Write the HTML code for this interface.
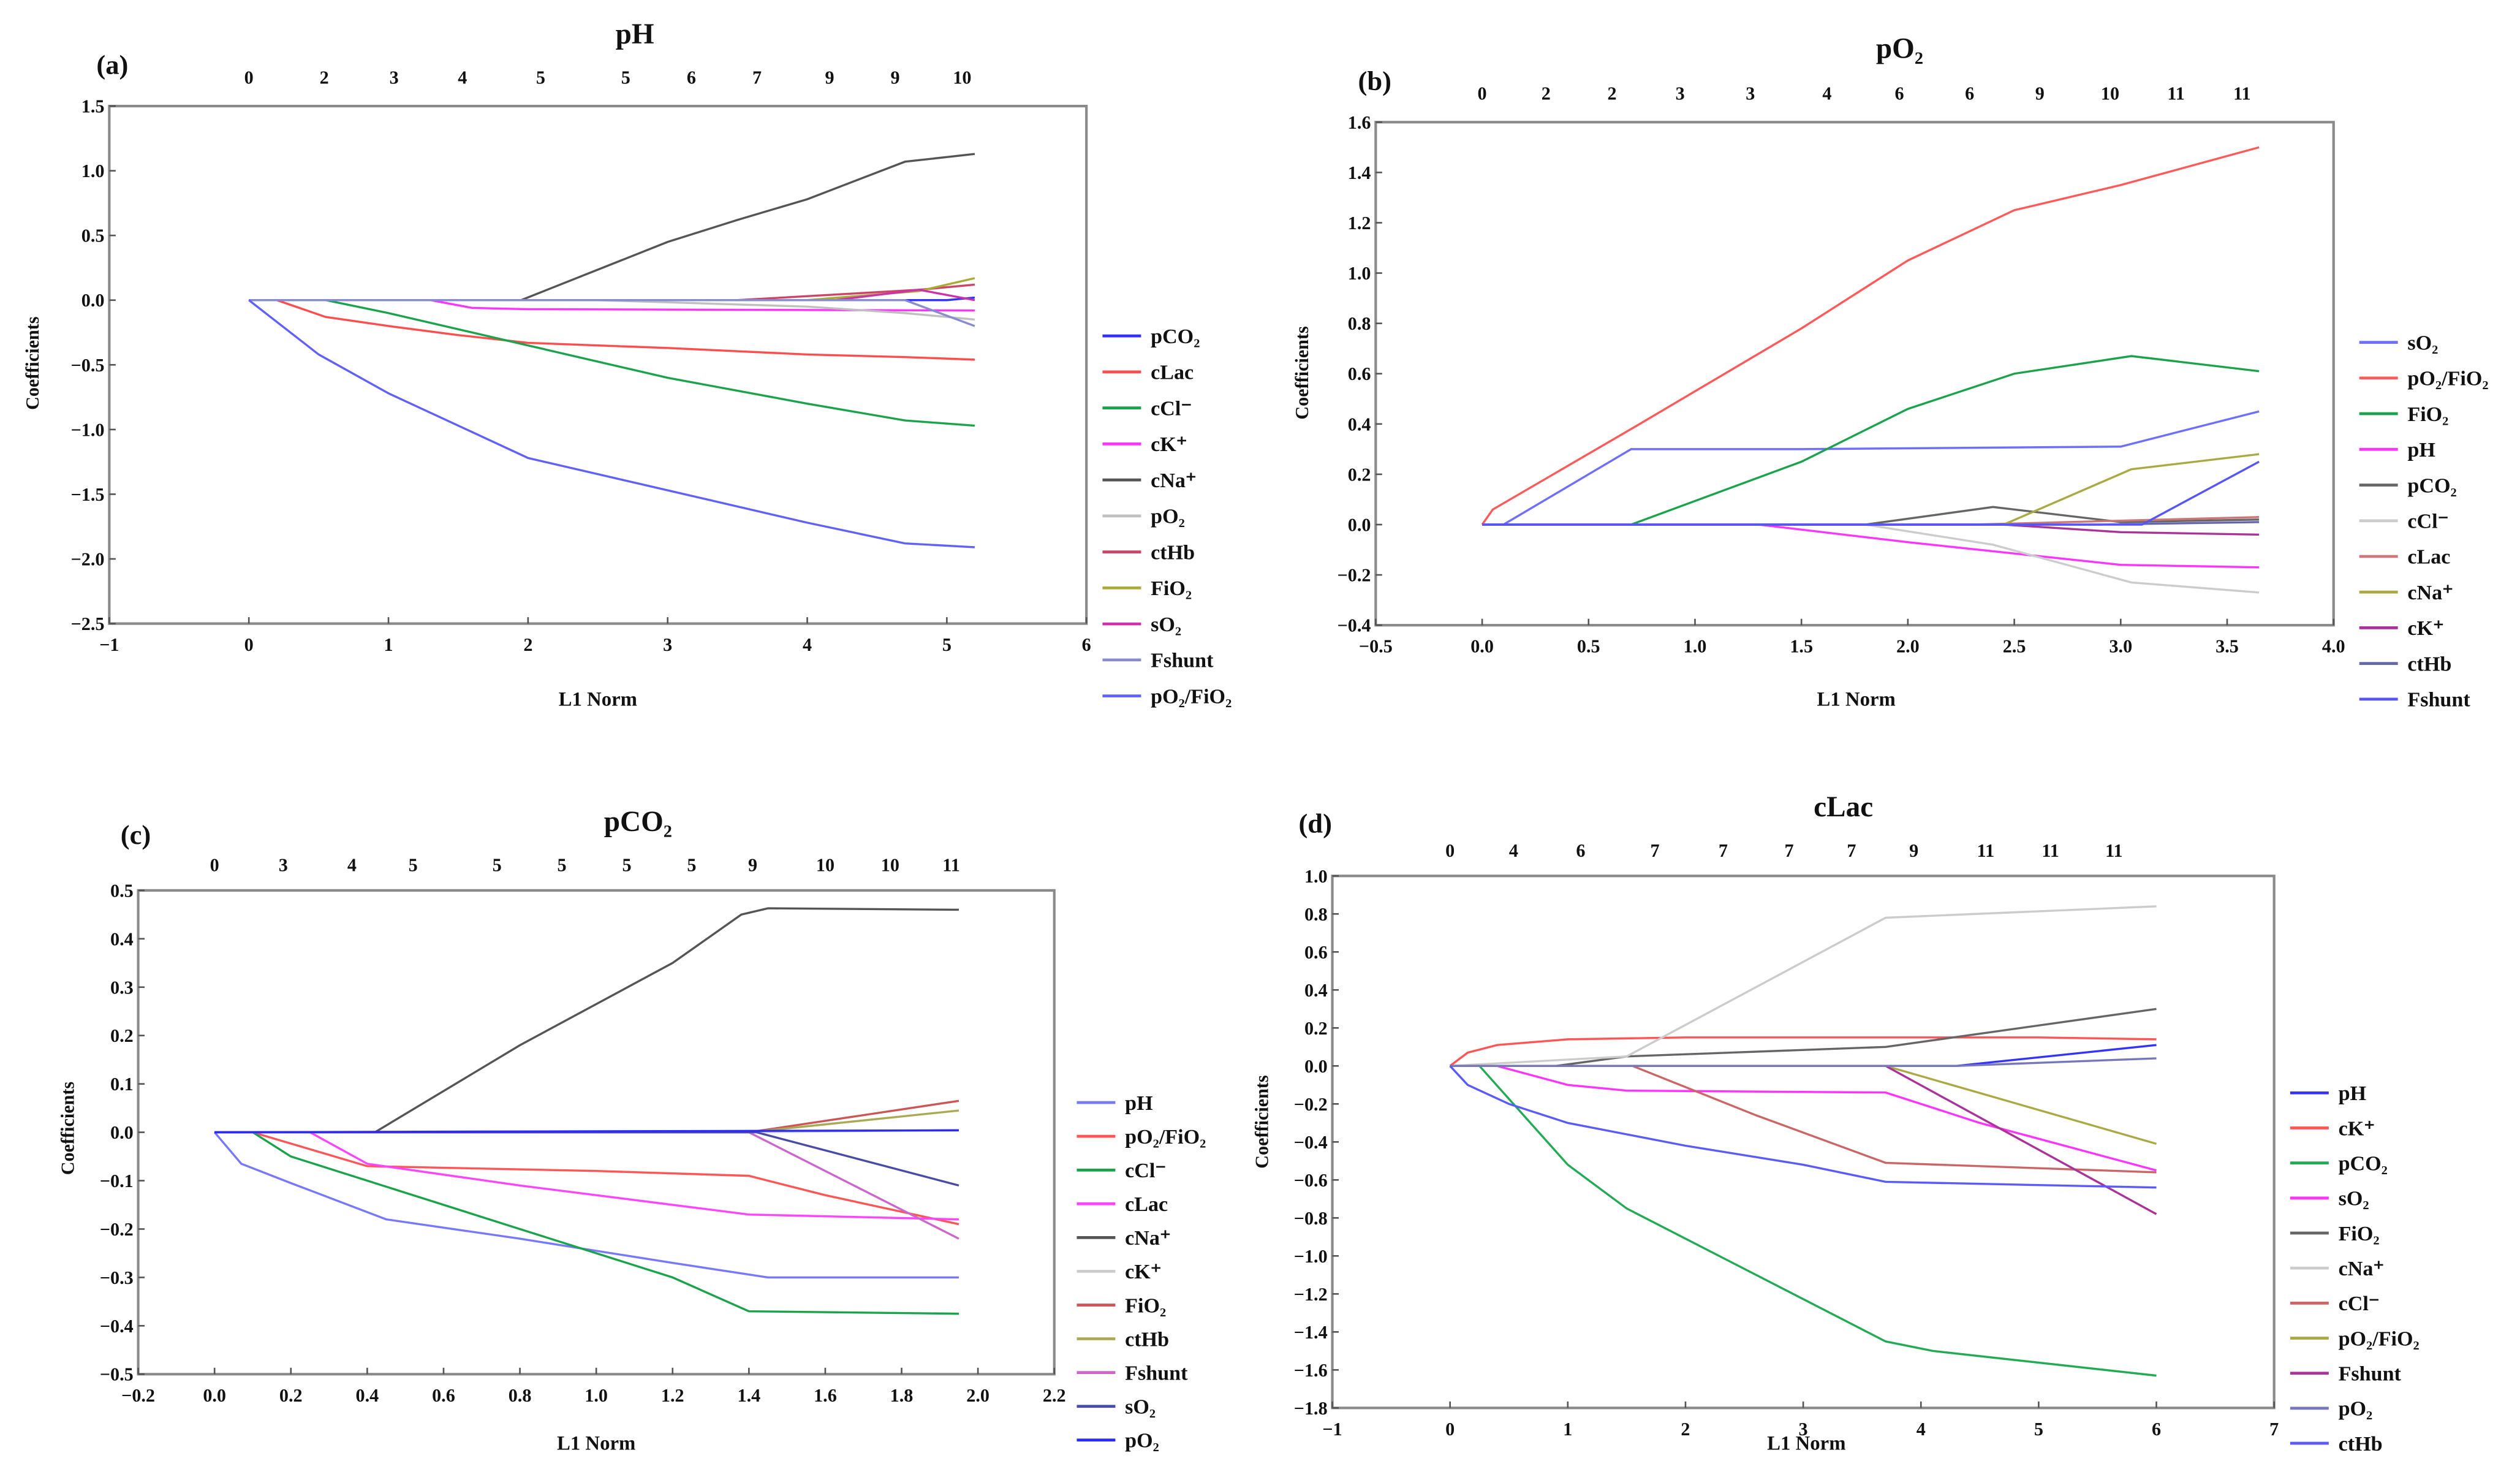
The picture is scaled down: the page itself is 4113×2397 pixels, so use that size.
<!DOCTYPE html>
<html><head><meta charset="utf-8"><style>
html,body{margin:0;padding:0;background:#fff;}
svg{display:block;}
text{font-family:"Liberation Serif",serif;fill:#111;}
</style></head><body>
<svg id="fig" width="4113" height="2397" viewBox="0 0 1568 914" preserveAspectRatio="none" xmlns="http://www.w3.org/2000/svg"></svg>
<script>
// ---------- Panel (a): pH ----------
const aTopLabels = ["0","2","3","4","5","5","6","7","9","9","10"];
const aTopPos = [0,0.54,1.04,1.53,2.09,2.7,3.17,3.64,4.16,4.63,5.11];
const aXTicks = [-1,0,1,2,3,4,5,6];
const aYTicks = [1.5,1.0,0.5,0.0,-0.5,-1.0,-1.5,-2.0,-2.5];
const aNames = ["pCO₂","cLac","cCl⁻","cK⁺","cNa⁺","pO₂","ctHb","FiO₂","sO₂","Fshunt","pO₂/FiO₂"];
const a_pCO2 = [[0,0],[5.0,0],[5.2,0.02]];
const a_cLac = [[0,0],[0.2,0],[0.55,-0.13],[1,-0.2],[1.5,-0.27],[2,-0.33],[3,-0.37],[4,-0.42],[4.7,-0.44],[5.2,-0.46]];
const a_cCl = [[0,0],[0.55,0],[1,-0.1],[2,-0.35],[3,-0.6],[4,-0.8],[4.7,-0.93],[5.2,-0.97]];
const a_cK = [[0,0],[1.3,0],[1.6,-0.06],[2,-0.07],[5.2,-0.08]];
const a_cNa = [[0,0],[1.95,0],[3,0.45],[3.5,0.62],[4,0.78],[4.7,1.07],[5.2,1.13]];
const a_pO2 = [[0,0],[2.5,0],[4,-0.05],[4.7,-0.1],[5.2,-0.15]];
const a_ctHb = [[0,0],[3.5,0],[4.8,0.08],[5.2,0.12]];
const a_FiO2 = [[0,0],[4,0],[4.8,0.07],[5.2,0.17]];
const a_sO2 = [[0,0],[4.2,0],[4.8,0.08],[5.2,0]];
const a_Fshunt = [[0,0],[4.7,0],[5.2,-0.2]];
const a_pO2FiO2 = [[0,0],[0.5,-0.42],[1,-0.72],[2,-1.22],[3,-1.47],[4,-1.72],[4.7,-1.88],[5.2,-1.91]];

// ---------- Panel (b): pO2 ----------
const bTopLabels = ["0","2","2","3","3","4","6","6","9","10","11","11"];
const bTopPos = [0,0.3,0.61,0.93,1.26,1.62,1.96,2.29,2.62,2.95,3.26,3.57];
const bXTicks = [-0.5,0.0,0.5,1.0,1.5,2.0,2.5,3.0,3.5,4.0];
const bYTicks = [1.6,1.4,1.2,1.0,0.8,0.6,0.4,0.2,0.0,-0.2,-0.4];
const bNames = ["sO₂","pO₂/FiO₂","FiO₂","pH","pCO₂","cCl⁻","cLac","cNa⁺","cK⁺","ctHb","Fshunt"];
const b_sO2 = [[0,0],[0.1,0],[0.7,0.3],[1.5,0.3],[3,0.31],[3.65,0.45]];
const b_pO2FiO2 = [[0,0],[0.05,0.06],[0.7,0.38],[1.5,0.78],[2,1.05],[2.5,1.25],[3,1.35],[3.65,1.5]];
const b_FiO2 = [[0,0],[0.7,0],[1.5,0.25],[2,0.46],[2.5,0.6],[3.05,0.67],[3.65,0.61]];
const b_pH = [[0,0],[1.3,0],[2,-0.07],[3,-0.16],[3.65,-0.17]];
const b_pCO2 = [[0,0],[1.8,0],[2.4,0.07],[3,0.01],[3.65,0.02]];
const b_cCl = [[0,0],[1.8,0],[2.4,-0.08],[3.05,-0.23],[3.65,-0.27]];
const b_cLac = [[0,0],[2.3,0],[3.65,0.03]];
const b_cNa = [[0,0],[2.45,0],[3.05,0.22],[3.65,0.28]];
const b_cK = [[0,0],[2.45,0],[3,-0.03],[3.65,-0.04]];
const b_ctHb = [[0,0],[2.9,0],[3.65,0.01]];
const b_Fshunt = [[0,0],[3.1,0],[3.65,0.25]];

// ---------- Panel (c): pCO2 ----------
const cTopLabels = ["0","3","4","5","5","5","5","5","9","10","10","11"];
const cTopPos = [0,0.18,0.36,0.52,0.74,0.91,1.08,1.25,1.41,1.6,1.77,1.93];
const cXTicks = [-0.2,0.0,0.2,0.4,0.6,0.8,1.0,1.2,1.4,1.6,1.8,2.0,2.2];
const cYTicks = [0.5,0.4,0.3,0.2,0.1,0.0,-0.1,-0.2,-0.3,-0.4,-0.5];
const cNames = ["pH","pO₂/FiO₂","cCl⁻","cLac","cNa⁺","cK⁺","FiO₂","ctHb","Fshunt","sO₂","pO₂"];
const c_pH = [[0,0],[0.07,-0.065],[0.2,-0.105],[0.45,-0.18],[0.8,-0.22],[1.2,-0.27],[1.45,-0.3],[1.95,-0.3]];
const c_pO2FiO2 = [[0,0],[0.1,0],[0.4,-0.07],[1,-0.08],[1.4,-0.09],[1.6,-0.13],[1.95,-0.19]];
const c_cCl = [[0,0],[0.1,0],[0.2,-0.05],[0.4,-0.1],[0.8,-0.2],[1.2,-0.3],[1.4,-0.37],[1.95,-0.375]];
const c_cLac = [[0,0],[0.25,0],[0.4,-0.065],[0.8,-0.11],[1.4,-0.17],[1.95,-0.18]];
const c_cNa = [[0,0],[0.42,0],[0.8,0.18],[1.2,0.35],[1.38,0.45],[1.45,0.463],[1.95,0.46]];
const c_cK = [[0,0],[1.4,0],[1.95,0.005]];
const c_FiO2 = [[0,0],[1.4,0],[1.95,0.065]];
const c_ctHb = [[0,0],[1.4,0],[1.95,0.045]];
const c_Fshunt = [[0,0],[1.4,0],[1.95,-0.22]];
const c_sO2 = [[0,0],[1.42,0],[1.95,-0.11]];
const c_pO2 = [[0,0],[1.95,0.004]];

// ---------- Panel (d): cLac ----------
const dTopLabels = ["0","4","6","7","7","7","7","9","11","11","11"];
const dTopPos = [0,0.54,1.11,1.74,2.32,2.88,3.41,3.94,4.55,5.1,5.64];
const dXTicks = [-1,0,1,2,3,4,5,6,7];
const dYTicks = [1.0,0.8,0.6,0.4,0.2,0.0,-0.2,-0.4,-0.6,-0.8,-1.0,-1.2,-1.4,-1.6,-1.8];
const dNames = ["pH","cK⁺","pCO₂","sO₂","FiO₂","cNa⁺","cCl⁻","pO₂/FiO₂","Fshunt","pO₂","ctHb"];
const d_pH = [[0,0],[4.3,0],[6,0.11]];
const d_cK = [[0,0],[0.15,0.07],[0.4,0.11],[1,0.14],[2,0.15],[5,0.15],[6,0.14]];
const d_pCO2 = [[0,0],[0.25,0],[1,-0.52],[1.5,-0.75],[3.7,-1.45],[4.1,-1.5],[6,-1.63]];
const d_sO2 = [[0,0],[0.4,0],[1,-0.1],[1.5,-0.13],[3.7,-0.14],[4.5,-0.3],[6,-0.55]];
const d_FiO2 = [[0,0],[0.9,0],[1.5,0.05],[3.7,0.1],[6,0.3]];
const d_cNa = [[0,0],[1.5,0.05],[3.7,0.78],[6,0.84]];
const d_cCl = [[0,0],[1.55,0],[2.6,-0.26],[3.7,-0.51],[6,-0.56]];
const d_pO2FiO2 = [[0,0],[3.7,0],[6,-0.41]];
const d_Fshunt = [[0,0],[3.7,0],[6,-0.78]];
const d_pO2 = [[0,0],[4.3,0],[6,0.04]];
const d_ctHb = [[0,0],[0.15,-0.1],[0.5,-0.2],[1,-0.3],[2,-0.42],[3,-0.52],[3.7,-0.61],[6,-0.64]];

const NS = "http://www.w3.org/2000/svg";
const svg = document.getElementById('fig');
function mk(tag, attrs, parent){
  const e = document.createElementNS(NS, tag);
  for (const k in attrs) e.setAttribute(k, attrs[k]);
  (parent||svg).appendChild(e);
  return e;
}
function drawPanel(cfg){
  const g = mk('g', {});
  
  
  const xs = v => cfg.x0 + (v - cfg.xmin) / (cfg.xmax - cfg.xmin) * (cfg.x1 - cfg.x0);
  const ys = v => cfg.y0 + (cfg.ymax - v) / (cfg.ymax - cfg.ymin) * (cfg.y1 - cfg.y0);
  const frame = mk('rect', {x:cfg.x0, y:cfg.y0, width:cfg.x1-cfg.x0, height:cfg.y1-cfg.y0, fill:'none', stroke:'#8a8a8a', 'stroke-width':1.6}, g);
  
  
  cfg.xticks.forEach(t => {
    const x = xs(t);
    mk('line', {x1:x, x2:x, y1:cfg.y1, y2:cfg.y1-4, stroke:'#555', 'stroke-width':1}, g);
    const tx = mk('text', {x:x, y:cfg.y1+17, 'text-anchor':'middle', 'font-size':11.5, 'font-weight':'bold'}, g);
    tx.textContent = String(t < 0 ? '−' + Math.abs(t).toFixed(cfg.xdec) : t.toFixed(cfg.xdec));
    
    
  });
  cfg.yticks.forEach(t => {
    const y = ys(t);
    mk('line', {x1:cfg.x0, x2:cfg.x0+4, y1:y, y2:y, stroke:'#555', 'stroke-width':1}, g);
    const tx = mk('text', {x:cfg.x0-3, y:y+4, 'text-anchor':'end', 'font-size':11.5, 'font-weight':'bold'}, g);
    tx.textContent = t < 0 ? '−' + Math.abs(t).toFixed(1) : t.toFixed(1);
    
    
  });
  cfg.topLabels.forEach((l, i) => {
    const tx = mk('text', {x:xs(cfg.topPos[i]), y:cfg.topY, 'text-anchor':'middle', 'font-size':11.5, 'font-weight':'bold'}, g);
    tx.textContent = l;
    
    
  });
  const tt = mk('text', {x:cfg.titleX, y:cfg.titleY, 'text-anchor':'middle', 'font-size':18, 'font-weight':'bold'}, g);
  tt.textContent = cfg.title;
  
  
  const pl = mk('text', {x:cfg.labX, y:cfg.labY, 'font-size':17, 'font-weight':'bold'}, g);
  pl.textContent = '(' + cfg.id + ')';
  
  
  const yt = mk('text', {x:0, y:0, 'text-anchor':'middle', 'font-size':11.5, 'font-weight':'bold', transform:'translate(' + cfg.ytX + ',' + cfg.ytY + ') rotate(-90)'}, g);
  yt.textContent = 'Coefficients';
  
  
  const xt = mk('text', {x:cfg.xtX, y:cfg.xtY, 'text-anchor':'middle', 'font-size':12.5, 'font-weight':'bold'}, g);
  xt.textContent = 'L1 Norm';
  
  
  cfg.series.forEach((s, i) => {
    const p = mk('polyline', {points: s.map(pt => xs(pt[0]).toFixed(2) + ',' + ys(pt[1]).toFixed(2)).join(' '), fill:'none', stroke:cfg.colors[i], 'stroke-width':1.3}, g);
    
    
  });
  cfg.names.forEach((n, i) => {
    const ly = cfg.legY0 + i * cfg.legDy;
    const ln = mk('line', {x1:cfg.legX, x2:cfg.legX+24, y1:ly, y2:ly, stroke:cfg.colors[i], 'stroke-width':1.8}, g);
    
    
    const tx = mk('text', {x:cfg.legX+30, y:ly+4.5, 'font-size':13, 'font-weight':'bold'}, g);
    tx.textContent = n;
    
    
  });
}
drawPanel({id:'a', x0:68, x1:676, y0:66, y1:388, xmin:-1, xmax:6, ymin:-2.5, ymax:1.5, xdec:0,
  xticks:aXTicks, yticks:aYTicks, topLabels:aTopLabels, topPos:aTopPos, topY:52,
  title:'pH', titleX:395, titleY:27, labX:60, labY:46, ytX:24, ytY:226, xtX:372, xtY:439,
  names:aNames, series:[a_pCO2,a_cLac,a_cCl,a_cK,a_cNa,a_pO2,a_ctHb,a_FiO2,a_sO2,a_Fshunt,a_pO2FiO2],
  colors:['#3333ff','#ff4d4d','#1aa34a','#ff33ff','#555555','#c0c0c0','#cc4466','#aaaa33','#cc33aa','#8a8ad0','#6060ff'],
  legX:686, legY0:209, legDy:22.4});
drawPanel({id:'b', x0:856, x1:1452, y0:76, y1:389, xmin:-0.5, xmax:4.0, ymin:-0.4, ymax:1.6, xdec:1,
  xticks:bXTicks, yticks:bYTicks, topLabels:bTopLabels, topPos:bTopPos, topY:62,
  title:'pO₂', titleX:1182, titleY:36, labX:845, labY:56, ytX:814, ytY:232, xtX:1155, xtY:439,
  names:bNames, series:[b_sO2,b_pO2FiO2,b_FiO2,b_pH,b_pCO2,b_cCl,b_cLac,b_cNa,b_cK,b_ctHb,b_Fshunt],
  colors:['#6f6fff','#ff5a5a','#1aa34a','#ff33ff','#666666','#cccccc','#cc7777','#aaaa44','#aa3399','#6666aa','#5555ff'],
  legX:1468, legY0:213, legDy:22.2});
drawPanel({id:'c', x0:86, x1:656, y0:554, y1:855, xmin:-0.2, xmax:2.2, ymin:-0.5, ymax:0.5, xdec:1,
  xticks:cXTicks, yticks:cYTicks, topLabels:cTopLabels, topPos:cTopPos, topY:542,
  title:'pCO₂', titleX:397, titleY:517, labX:75, labY:525, ytX:46, ytY:702, xtX:371, xtY:902,
  names:cNames, series:[c_pH,c_pO2FiO2,c_cCl,c_cLac,c_cNa,c_cK,c_FiO2,c_ctHb,c_Fshunt,c_sO2,c_pO2],
  colors:['#7777ff','#ff5555','#1aa34a','#ff44ff','#555555','#cccccc','#cc5555','#aaaa55','#cc66cc','#4a4aa8','#2a2aff'],
  legX:670, legY0:686, legDy:21});
drawPanel({id:'d', x0:829, x1:1415, y0:545, y1:876, xmin:-1, xmax:7, ymin:-1.8, ymax:1.0, xdec:0,
  xticks:dXTicks, yticks:dYTicks, topLabels:dTopLabels, topPos:dTopPos, topY:533,
  title:'cLac', titleX:1147, titleY:508, labX:808, labY:518, ytX:789, ytY:698, xtX:1124, xtY:902,
  names:dNames, series:[d_pH,d_cK,d_pCO2,d_sO2,d_FiO2,d_cNa,d_cCl,d_pO2FiO2,d_Fshunt,d_pO2,d_ctHb],
  colors:['#3333ff','#ff5555','#22aa55','#ff33ff','#666666','#cccccc','#cc6666','#aaaa44','#aa3399','#7777bb','#5a5aff'],
  legX:1425, legY0:680, legDy:21.8});
</script>
</body></html>
